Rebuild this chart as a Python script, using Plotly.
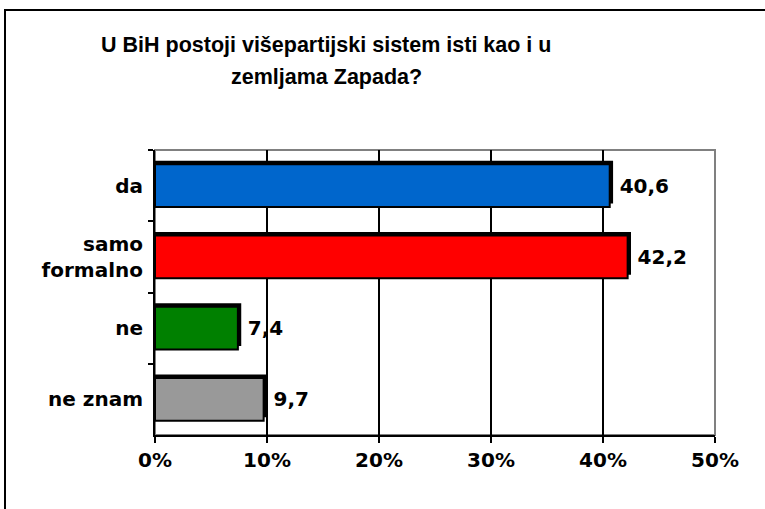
import plotly.graph_objects as go

categories = ["da", "samo<br>formalno", "ne", "ne znam"]
values = [40.6, 42.2, 7.4, 9.7]
value_labels = ["40,6", "42,2", "7,4", "9,7"]
colors = ["#0066CC", "#FF0000", "#008000", "#999999"]
x_ticks = [0, 10, 20, 30, 40, 50]
x_tick_labels = ["0%", "10%", "20%", "30%", "40%", "50%"]
title_lines = ["U BiH postoji višepartijski sistem isti kao i u", "zemljama Zapada?"]

W, H = 765, 509
# on-screen plot area: x 155..715, y 150..434
ML, MT = 155, 150
MR, MB = W - 715, H - 435
PW, PH = W - ML - MR, H - MT - MB

FONT = "DejaVu Sans"
BAR_W = 0.6
SHADOW_X = 0.3   # style offset in % units
SHADOW_Y = 0.05  # style offset in category units

fig = go.Figure()

# shadow (3D edge) bars
fig.add_trace(go.Bar(
    y=categories, x=[v + SHADOW_X for v in values], orientation="h",
    width=BAR_W, offset=-BAR_W / 2 - SHADOW_Y,
    marker=dict(color="black", line=dict(width=0)),
    hoverinfo="skip", showlegend=False,
))
# main bars
fig.add_trace(go.Bar(
    y=categories, x=values, orientation="h",
    width=BAR_W, offset=-BAR_W / 2,
    marker=dict(color=colors, line=dict(color="black", width=2)),
    text=value_labels, texttemplate="\u00a0%{text}",
    textposition="outside", cliponaxis=False,
    textfont=dict(family=FONT, size=20, color="black", weight="bold"),
    showlegend=False,
))

fig.update_layout(
    template="none",
    width=W, height=H,
    margin=dict(l=ML, r=MR, t=MT, b=MB, pad=0, autoexpand=False),
    paper_bgcolor="white", plot_bgcolor="white",
    barmode="overlay",
    font=dict(family=FONT, color="black"),
)

fig.update_xaxes(
    range=[0, 50], tickvals=x_ticks, ticktext=x_tick_labels,
    showgrid=True, gridcolor="black", gridwidth=2,
    zeroline=False,
    showline=True, linecolor="black", linewidth=2,
    ticks="outside", ticklen=6, tickwidth=2, tickcolor="black",
    tickfont=dict(family=FONT, size=20, color="black", weight="bold"),
    fixedrange=True,
)
fig.update_yaxes(
    autorange="reversed", type="category",
    showgrid=False, zeroline=False,
    showline=True, linecolor="black", linewidth=2,
    ticks="outside", tickson="boundaries", ticklen=5, tickwidth=2, tickcolor="black",
    tickfont=dict(family=FONT, size=20, color="black", weight="bold"),
    ticklabelstandoff=6,
    fixedrange=True,
)

# gray plot-area border (top & right)
fig.add_shape(type="rect", xref="paper", yref="paper", x0=0, y0=0, x1=1, y1=1,
              line=dict(color="#808080", width=2), layer="between")

# outer chart border (clipped at right and bottom edges)
fig.add_shape(type="rect", xref="paper", yref="paper",
              x0=(5 - ML) / PW, x1=(W + 20 - ML) / PW,
              y0=-(H + 20 - MT - PH) / PH, y1=(MT + PH - 10) / PH,
              line=dict(color="black", width=2), layer="above")

# title lines
for i, line in enumerate(title_lines):
    fig.add_annotation(
        text=line, xref="paper", yref="paper",
        x=(326 - ML) / PW, y=(MT + PH - (45 + 32 * i)) / PH,
        xanchor="center", yanchor="middle", showarrow=False,
        font=dict(family="Liberation Sans", size=21.5, color="black", weight="bold"),
    )

fig.write_html(
    "out.html",
    config={"displayModeBar": False},
    post_script="document.body.style.margin='0';document.body.style.overflow='hidden';",
)
